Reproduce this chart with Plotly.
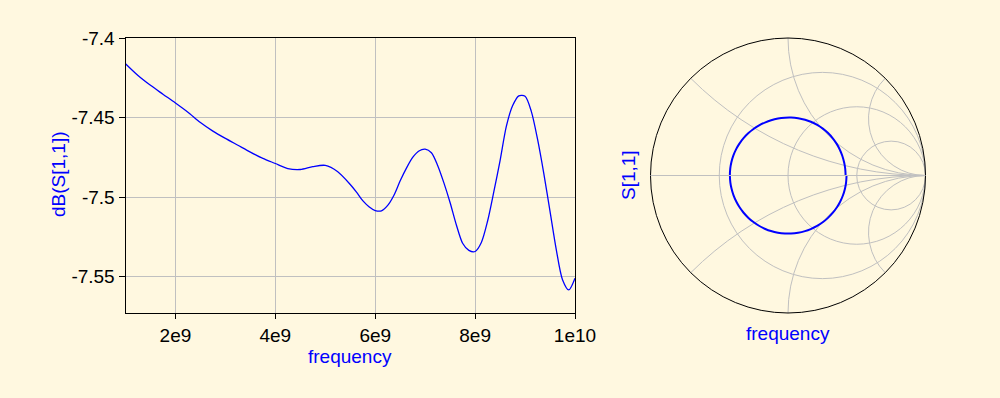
import numpy as np
import plotly.graph_objects as go

# ---- data ----
freq_ghz = [1.0, 1.25, 1.5, 1.75, 2.0, 2.25, 2.5, 2.75, 3.0, 3.25, 3.5, 3.75,
            4.0, 4.25, 4.5, 4.75, 5.0, 5.25, 5.5,
            5.625, 5.75, 5.875, 6.0, 6.125, 6.25, 6.375, 6.5, 6.625, 6.75, 6.875,
            7.0, 7.125, 7.25, 7.375, 7.5, 7.625, 7.75, 7.875, 8.0, 8.125, 8.25,
            8.375, 8.5, 8.625, 8.75, 8.875, 9.0, 9.125, 9.25, 9.375, 9.5, 9.625,
            9.75, 9.875, 10.0]
db_s11 = [-7.4160, -7.4234, -7.4296, -7.4352, -7.4407, -7.4465, -7.4530, -7.4584,
          -7.4630, -7.4673, -7.4716, -7.4756, -7.4788, -7.4820, -7.4826, -7.4808,
          -7.4800, -7.4840, -7.4920,
          -7.4968, -7.5022, -7.5060, -7.5084, -7.5086, -7.5052, -7.4988, -7.4897,
          -7.4817, -7.4750, -7.4709, -7.4698, -7.4720, -7.4800, -7.4910, -7.5035,
          -7.5175, -7.5290, -7.5335, -7.5342, -7.5285, -7.5150, -7.4965, -7.4770,
          -7.4555, -7.4425, -7.4362, -7.4365, -7.4460, -7.4635, -7.4850, -7.5090,
          -7.5330, -7.5520, -7.5584, -7.5510]
phase_deg = [0, -7, -13, -20, -27, -33, -40, -47, -53, -60, -67, -73, -80, -87,
             -93, -100, -107, -113, -120, -127, -133, -140, -147, -153, -160, -167,
             -173, -180, -187, -193, -200, -207, -213, -220, -227, -233, -240, -247,
             -253, -260, -267, -273, -280, -287, -293, -300, -307, -313, -320, -327,
             -333, -340, -347, -353, -360]

x_tickvals = [2e9, 4e9, 6e9, 8e9, 1e10]
x_ticktext = ["2e9", "4e9", "6e9", "8e9", "1e10"]
y_tickvals = [-7.4, -7.45, -7.5, -7.55]
y_ticktext = ["-7.4", "-7.45", "-7.5", "-7.55"]

smith_r_grid = [1 / 3, 1, 3]
smith_x_grid = [-2.414, -1, -0.414, 0, 0.414, 1, 2.414]

BG = "#fff8e0"
GRID = "#c0c0c0"
BLUE = "#0000ff"
FONT = "Liberation Sans, Arial, sans-serif"

freq_hz = [f * 1e9 for f in freq_ghz]
gamma = np.power(10.0, np.array(db_s11) / 20.0) * np.exp(1j * np.deg2rad(phase_deg))
z = (1 + gamma) / (1 - gamma)

fig = go.Figure()
fig.add_trace(go.Scatter(x=freq_hz, y=db_s11, mode="lines",
                         line=dict(color=BLUE, width=1.3, shape="spline", smoothing=0.8),
                         xaxis="x", yaxis="y", showlegend=False))
fig.add_trace(go.Scattersmith(real=z.real, imag=z.imag, mode="lines",
                              line=dict(color=BLUE, width=2, shape="spline"),
                              subplot="smith", showlegend=False))

W, H = 1000, 398
yr = [-7.5731, -7.4]
xr = [1e9, 1e10]
xdom = [125.5 / W, 575.0 / W]
ydom = [1 - 313.3 / H, 1 - 38.3 / H]

fig.update_layout(
    width=W, height=H,
    margin=dict(l=0, r=0, t=0, b=0, pad=0, autoexpand=False),
    paper_bgcolor=BG, plot_bgcolor=BG,
    font=dict(family=FONT, size=19, color="black"),
    xaxis=dict(domain=xdom, range=xr, tickvals=x_tickvals, ticktext=x_ticktext,
               showgrid=True, gridcolor=GRID, gridwidth=1, zeroline=False,
               showline=True, linecolor="black", linewidth=1, mirror=True,
               ticks="outside", ticklen=5, tickcolor="black", anchor="y",
               automargin=False, tickfont=dict(size=19, color="black")),
    yaxis=dict(domain=ydom, range=yr, tickvals=y_tickvals, ticktext=y_ticktext,
               showgrid=True, gridcolor=GRID, gridwidth=1, zeroline=False,
               showline=True, linecolor="black", linewidth=1, mirror=True,
               ticks="outside", ticklen=6, tickcolor="black", anchor="x",
               automargin=False, tickfont=dict(size=19, color="black")),
    xaxis2=dict(domain=xdom, range=xr, overlaying="x", anchor="y", side="bottom",
                tickvals=x_tickvals, showticklabels=False, showgrid=False,
                zeroline=False, showline=False, ticks="inside", ticklen=5,
                tickcolor="black", automargin=False),
    yaxis2=dict(domain=ydom, range=yr, overlaying="y", anchor="x", side="left",
                tickvals=y_tickvals, showticklabels=False, showgrid=False,
                zeroline=False, showline=False, ticks="inside", ticklen=5,
                tickcolor="black", automargin=False),
    smith=dict(
        domain=dict(x=[650.5 / W, 925.5 / W], y=[1 - 313.0 / H, 1 - 38.0 / H]),
        bgcolor=BG,
        realaxis=dict(tickvals=smith_r_grid, showticklabels=False, ticks="",
                      showgrid=True, gridcolor=GRID, gridwidth=1,
                      showline=True, linecolor=GRID, linewidth=1),
        imaginaryaxis=dict(tickvals=smith_x_grid, showticklabels=False, ticks="",
                           showgrid=True, gridcolor=GRID, gridwidth=1,
                           showline=True, linecolor="black", linewidth=1),
    ),
)

# axis titles placed at pixel positions
title_specs = [
    ("frequency", 350, 356, 0),
    ("dB(S[1,1])", 58, 174, -90),
    ("frequency", 788, 333, 0),
    ("S[1,1]", 629, 175, -90),
]
for text, px, py, ang in title_specs:
    fig.add_annotation(text=text, x=px / W, y=1 - py / H, xref="paper", yref="paper",
                       xanchor="center", yanchor="middle", textangle=ang,
                       showarrow=False, font=dict(color=BLUE, size=19, family=FONT))

fig.write_html("out.html")
